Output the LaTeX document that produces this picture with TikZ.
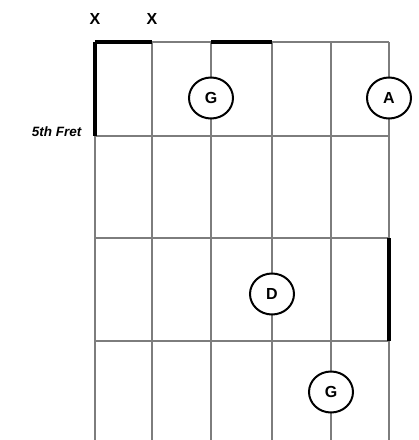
\documentclass[tikz,border=0pt]{standalone}
\usepackage{fontspec}
\setmainfont{Liberation Sans}
\usetikzlibrary{shapes.geometric}
\begin{document}
\begin{tikzpicture}[x=1pt,y=-1pt,
  gridline/.style={draw=gray!98!black,line width=2.6pt},
  barline/.style={draw=black,line width=3.2pt},
  notedot/.style={draw=black,line width=2pt,fill=white,ellipse,minimum width=44pt,minimum height=41pt,inner sep=0pt,font=\fontsize{16}{18}\selectfont\bfseries},
  mute/.style={font=\fontsize{16}{18}\selectfont\bfseries},
  fretlabel/.style={font=\fontsize{13.5}{16}\selectfont\bfseries\itshape,anchor=east}]
\useasboundingbox (0,0) rectangle (419,440);
% strings
\foreach \x in {95,152,211,272,331,389}
  \draw[gridline] (\x,42) -- (\x,440);
% frets
\draw[gridline] (152,42) -- (389,42);
\foreach \y in {136,238,341}
  \draw[gridline] (95,\y) -- (389,\y);
% black marks
\draw[barline] (95,42) -- (152,42);
\draw[barline] (211,42) -- (272,42);
\draw[barline] (95,42) -- (95,136);
\draw[barline] (389,238) -- (389,341);
% notes
\node[notedot] (g1) at (211,98) {G};
\node[notedot] (a1) at (389,98) {A};
\node[notedot] (d1) at (272,294) {D};
\node[notedot] (g2) at (331,392) {G};
% labels
\node[mute] (x1) at (95,19) {X};
\node[mute] (x2) at (152,19) {X};
\node[fretlabel] (fret) at (85,132) {5th Fret};
\end{tikzpicture}
\end{document}
